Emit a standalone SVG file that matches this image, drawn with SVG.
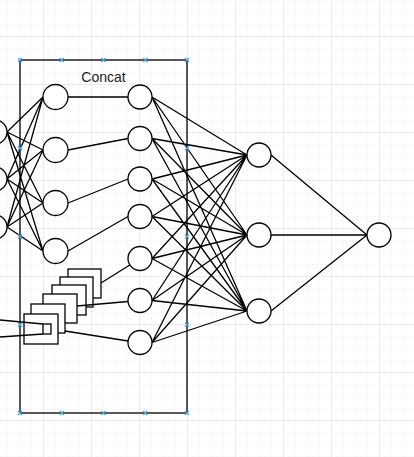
<svg xmlns="http://www.w3.org/2000/svg" width="414" height="457" viewBox="0 0 414 457">
<defs>
<pattern id="minor" x="7" y="0" width="12" height="12" patternUnits="userSpaceOnUse">
<path d="M0 0H12M0 0V12" fill="none" stroke="#f3f3f3" stroke-width="1"/>
</pattern>
<pattern id="major" x="43" y="36" width="48" height="48" patternUnits="userSpaceOnUse">
<path d="M0 0H48M0 0V48" fill="none" stroke="#e0e0e0" stroke-width="1"/>
</pattern>
<style>
.n{fill:#fff;stroke:#000;stroke-width:1.3}
.e{stroke:#000;stroke-width:1.3;fill:none}
.b{fill:#fff;stroke:#000;stroke-width:1.3}
.h{stroke:#3fa9e0;stroke-width:1.2;fill:none}
.t{font-family:"Liberation Sans",Arial,sans-serif;font-size:14px;fill:#222}
</style>
</defs>
<rect width="414" height="457" fill="#fff"/>
<rect width="414" height="457" fill="url(#minor)"/>
<rect width="414" height="457" fill="url(#major)"/>

<g id="concat">
<rect x="20" y="60" width="167" height="353" fill="none" stroke="#000" stroke-width="1.3"/>
<text class="t" x="103.5" y="82" text-anchor="middle">Concat</text>
</g>

<g id="stack">
<rect class="b" x="68" y="269" width="33" height="29"/>
<rect class="b" x="60" y="277" width="33" height="30"/>
<rect class="b" x="52" y="285" width="34" height="30"/>
<rect class="b" x="43" y="294" width="34" height="29"/>
<rect class="b" x="31" y="304" width="34" height="29"/>
<rect class="b" x="24" y="314" width="34" height="30"/>
<rect class="b" x="43" y="324" width="8" height="10"/>
</g>

<g id="connectors">
<!-- left inputs to col1 -->
<path class="e" d="M7 132L43 97M7 132L43 150M7 132L43 203M7 132L43 251
M7 179L43 97M7 179L43 150M7 179L43 203M7 179L43 251
M7 227L43 97M7 227L43 150M7 227L43 203M7 227L43 251"/>
<!-- col1 to col2 -->
<path class="e" d="M68 97L128 97M68 150L128 138.5M68 203L128 179M68 251L128 216.5"/>
<!-- stack to col2 -->
<path class="e" d="M101 283L129.8 265M77 306L128 301.5M65 331L128 341"/>
<!-- left lines into stack -->
<path class="e" d="M0 320L43 324M0 337L43 334"/>
<!-- col2 to hidden -->
<path class="e" d="M152 97L247 155M152 97L247 235M152 97L247 311
M152 138.5L247 155M152 138.5L247 235M152 138.5L247 311
M152 179L247 155M152 179L247 235M152 179L247 311
M152 216.5L247 155M152 216.5L247 235M152 216.5L247 311
M152 258.5L247 155M152 258.5L247 235M152 258.5L247 311
M152 300.5L247 155M152 300.5L247 235M152 300.5L247 311
M152 342.5L247 155M152 342.5L247 235M152 342.5L247 311"/>
<!-- hidden to output -->
<path class="e" d="M271 155L367 235M271 235L367 235M271 311L367 235"/>
</g>

<g id="in1"><circle class="n" cx="-5" cy="132" r="12"/></g>
<g id="in2"><circle class="n" cx="-5" cy="179" r="12"/></g>
<g id="in3"><circle class="n" cx="-5" cy="227" r="12"/></g>

<g id="a1"><circle class="n" cx="55.5" cy="97" r="12.5"/></g>
<g id="a2"><circle class="n" cx="55.5" cy="150" r="12.5"/></g>
<g id="a3"><circle class="n" cx="55.5" cy="203" r="12.5"/></g>
<g id="a4"><circle class="n" cx="55.5" cy="251" r="12.5"/></g>

<g id="c1"><circle class="n" cx="140" cy="97" r="12"/></g>
<g id="c2"><circle class="n" cx="140" cy="138.5" r="12"/></g>
<g id="c3"><circle class="n" cx="140" cy="179" r="12"/></g>
<g id="c4"><circle class="n" cx="140" cy="216.5" r="12"/></g>
<g id="c5"><circle class="n" cx="140" cy="258.5" r="12"/></g>
<g id="c6"><circle class="n" cx="140" cy="300.5" r="12"/></g>
<g id="c7"><circle class="n" cx="140" cy="342.5" r="12"/></g>

<g id="h1"><circle class="n" cx="259" cy="155" r="12"/></g>
<g id="h2"><circle class="n" cx="259" cy="235" r="12"/></g>
<g id="h3"><circle class="n" cx="259" cy="311" r="12"/></g>

<g id="out"><circle class="n" cx="379" cy="235" r="12"/></g>

<g id="handles">
<path class="h" d="M18 58l4 4M22 58l-4 4
M59.75 58l4 4M63.75 58l-4 4
M101.5 58l4 4M105.5 58l-4 4
M143.25 58l4 4M147.25 58l-4 4
M185 58l4 4M189 58l-4 4
M18 411l4 4M22 411l-4 4
M59.75 411l4 4M63.75 411l-4 4
M101.5 411l4 4M105.5 411l-4 4
M143.25 411l4 4M147.25 411l-4 4
M185 411l4 4M189 411l-4 4
M18 146.25l4 4M22 146.25l-4 4
M18 234.5l4 4M22 234.5l-4 4
M18 322.75l4 4M22 322.75l-4 4
M185 146.25l4 4M189 146.25l-4 4
M185 234.5l4 4M189 234.5l-4 4
M185 322.75l4 4M189 322.75l-4 4"/>
</g>
</svg>
